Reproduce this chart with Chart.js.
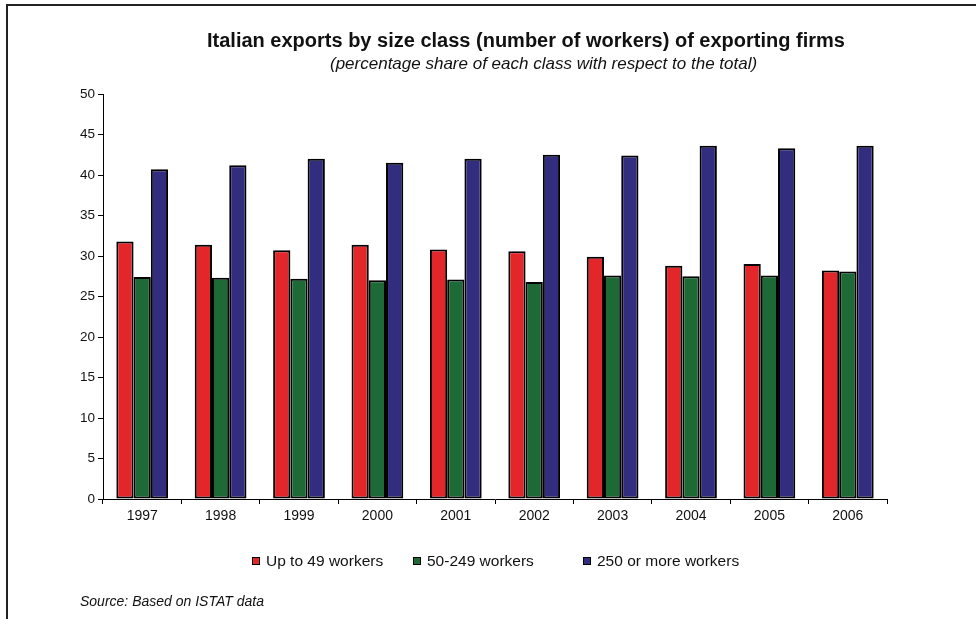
<!DOCTYPE html>
<html>
<head>
<meta charset="utf-8">
<script src="https://cdn.jsdelivr.net/npm/chart.js@4"></script>
<style>
  html, body { margin: 0; padding: 0; background: #fff; }
  #wrap { position: relative; width: 976px; height: 619px; overflow: hidden; font-family: "Liberation Sans", Arial, sans-serif; color: #111; }
  #frame { position: absolute; left: 6px; top: 4px; right: -10px; bottom: -10px; border-top: 2px solid #222; border-left: 2px solid #222; }
  canvas { position: absolute; left: 0; top: 0; }
  .t { position: absolute; white-space: nowrap; line-height: 1; }
  #title { left: 207px; top: 30px; font-weight: bold; font-size: 20px; }
  #subtitle { left: 330px; top: 55px; font-style: italic; font-size: 17px; }
  #source { left: 80px; top: 594px; font-style: italic; font-size: 14px; }
  .leg { position: absolute; top: 553px; font-size: 15.5px; white-space: nowrap; line-height: 16px; }
  .leg span.box { display: inline-block; width: 6px; height: 6px; border: 1px solid #000; margin-right: 6px; vertical-align: 1px; }
</style>
</head>
<body>
<div id="wrap">
  <div id="frame"></div>
  <canvas id="c" width="976" height="619"></canvas>
  <div class="t" id="title">Italian exports by size class (number of workers) of exporting firms</div>
  <div class="t" id="subtitle">(percentage share of each class with respect to the total)</div>
  <div id="legend"></div>
  <div class="t" id="source">Source: Based on ISTAT data</div>
</div>
<script>
const years = ["1997","1998","1999","2000","2001","2002","2003","2004","2005","2006"];
const seriesNames = ["Up to 49 workers", "50-249 workers", "250 or more workers"];
const upTo49 = [31.8, 31.4, 30.7, 31.4, 30.8, 30.6, 29.9, 28.8, 29.0, 28.2];
const from50to249 = [27.4, 27.3, 27.2, 27.0, 27.1, 26.8, 27.6, 27.5, 27.6, 28.1];
const over250 = [40.7, 41.2, 42.0, 41.5, 42.0, 42.5, 42.4, 43.6, 43.3, 43.6];
const colors = ["#E3262A", "#1D6A37", "#332D80"];
const legendLeft = [252, 413, 583];

const seriesData = [upTo49, from50to249, over250];

const legend = document.getElementById('legend');
seriesNames.forEach((name, i) => {
  const d = document.createElement('div');
  d.className = 'leg';
  d.style.left = legendLeft[i] + 'px';
  d.innerHTML = '<span class="box" style="background:' + colors[i] + '"></span>' + name;
  legend.appendChild(d);
});

new Chart(document.getElementById('c'), {
  type: 'bar',
  data: {
    labels: years,
    datasets: seriesNames.map((name, i) => ({
      label: name,
      data: seriesData[i],
      backgroundColor: colors[i],
      borderColor: '#000',
      borderWidth: 2,
      borderSkipped: false,
      categoryPercentage: 0.66,
      barPercentage: 1.0
    }))
  },
  options: {
    responsive: false,
    animation: false,
    devicePixelRatio: 1,
    layout: { padding: { left: 0, right: 89, top: 94, bottom: 0 } },
    plugins: { legend: { display: false }, title: { display: false }, tooltip: { enabled: false } },
    scales: {
      x: {
        afterFit: (s) => { s.height = 120; },
        grid: { display: true, drawOnChartArea: false, drawTicks: true, tickLength: 5, color: '#000', offset: true },
        border: { display: true, color: '#000', width: 1 },
        ticks: { color: '#111', font: { family: 'Liberation Sans', size: 14 }, padding: 4, maxRotation: 0 }
      },
      y: {
        min: 0, max: 50,
        afterFit: (s) => { s.width = 103; },
        grid: { display: true, drawOnChartArea: false, drawTicks: true, tickLength: 5, color: '#000' },
        border: { display: true, color: '#000', width: 1 },
        ticks: { stepSize: 5, color: '#111', font: { family: 'Liberation Sans', size: 13.5 }, padding: 3 }
      }
    }
  }
});
</script>
</body>
</html>
